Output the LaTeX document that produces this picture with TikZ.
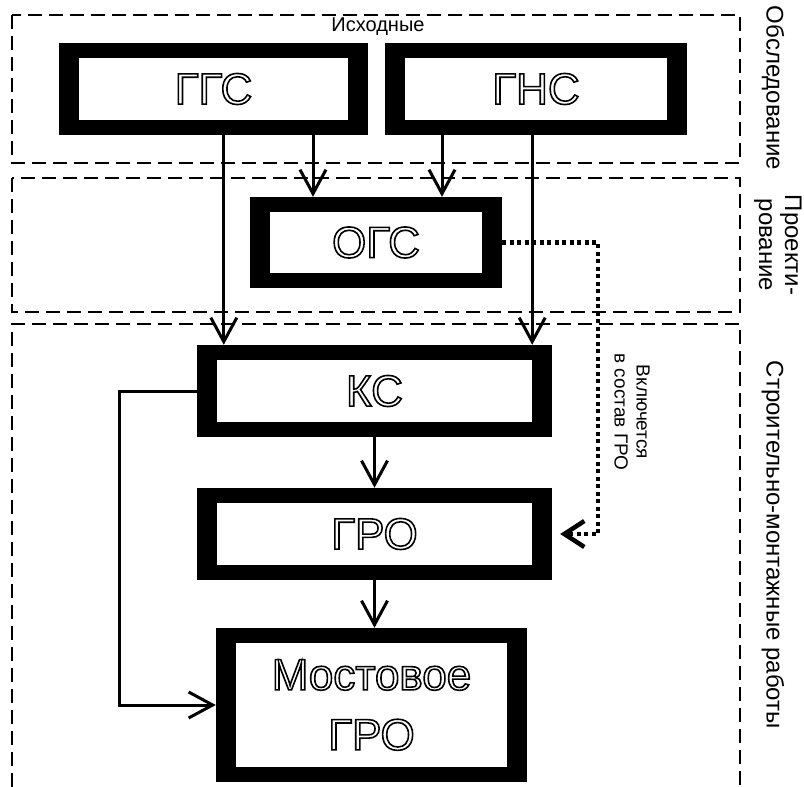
\documentclass[tikz,border=0pt]{standalone}
\usepackage{fontspec}
\setmainfont{Liberation Sans}
\usetikzlibrary{arrows.meta,calc}
\newcommand{\hollow}[1]{\special{pdf:literal direct 1 Tr 1.6 w}#1\special{pdf:literal direct 0 Tr 1 w}}

\begin{document}
\begin{tikzpicture}[x=1pt,y=-1pt,
 stage/.style={line width=2.2pt,dash pattern=on 14pt off 7pt},
 blk/.style={fill=black,inner sep=0pt,font=\fontsize{44}{60}\selectfont,align=center,
  path picture={\fill[white]([shift={(20pt,-15pt)}]path picture bounding box.north west)
   rectangle ([shift={(-20pt,15pt)}]path picture bounding box.south east);}},
 arr/.style={line width=3pt,-{Straight Barb[length=24pt,width=26pt]}},
 dotline/.style={line width=4.5pt,dash pattern=on 4pt off 3.5pt,
  -{Straight Barb[length=20pt,width=26pt]},shorten >=8pt},
 side/.style={rotate=-90,font=\fontsize{24}{26}\selectfont,align=center}]
\useasboundingbox (0,0) rectangle (804,787);
% stages
\draw[stage] (12,15) rectangle (740,163);
\draw[stage] (12,178) rectangle (740,312);
\draw[stage] (12,787) |- (740,324) -- (740,787);
\node[font=\fontsize{20}{24}\selectfont] (src) at (378,27) {Исходные};
\node[side] (lb1) at (773,88) {Обследование};
\node[side] (lb2) at (778,245) {Проекти-\\рование};
\node[side] (lb3) at (773,545) {Строительно-монтажные работы};
% blocks
\node[blk,minimum width=309pt,minimum height=92pt] (ggs) at (213.5,89) {\hollow{ГГС}};
\node[blk,minimum width=302pt,minimum height=92pt] (gns) at (536,89) {\hollow{ГНС}};
\node[blk,minimum width=252pt,minimum height=91pt] (ogs) at (376,242.5) {\hollow{ОГС}};
\node[blk,minimum width=355pt,minimum height=92pt] (ks) at (374.5,391) {\hollow{КС}};
\node[blk,minimum width=355pt,minimum height=92pt] (gro) at (374.5,534) {\hollow{ГРО}};
\node[blk,minimum width=311pt,minimum height=154pt] (most) at (371.5,705) {\hollow{Мостовое}\\\hollow{ГРО}};
% links
\coordinate (p1) at ([xshift=-63pt]ogs.north);
\coordinate (p2) at ([xshift=66pt]ogs.north);
\coordinate (k1) at ([xshift=27pt]ks.north west);
\coordinate (k2) at ([xshift=-20pt]ks.north east);
\draw[arr] (p1 |- ggs.south) -- (p1);
\draw[arr] (p2 |- gns.south) -- (p2);
\draw[arr] (k1 |- ggs.south) -- (k1);
\draw[arr] (k2 |- gns.south) -- (k2);
\draw[arr] (ks.south) -- (gro.north);
\draw[arr] (gro.south) -- (gro.south |- most.north);
\draw[arr] (ks.west) -- ++(-77,0) |- (most.west);
\draw[dotline] (ogs.east) -| ([xshift=46pt]gro.east) -- (gro.east);
\node[side,font=\fontsize{19}{22}\selectfont] (inc) at (632,412) {Включется\\в состав ГРО};
\end{tikzpicture}
\end{document}
